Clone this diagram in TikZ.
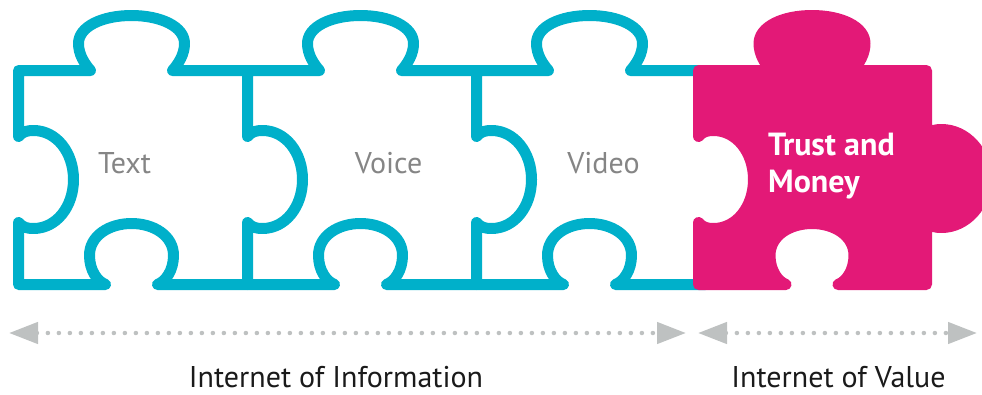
\documentclass[tikz,border=0pt]{standalone}
\usepackage{fontspec}
\setmainfont{PT Sans}
\usetikzlibrary{arrows.meta}

\definecolor{puzzleblue}{RGB}{0,176,202}
\definecolor{valuepink}{RGB}{227,25,119}
\definecolor{labelgray}{RGB}{133,133,133}
\definecolor{arrowgray}{RGB}{190,193,193}
\definecolor{captionblack}{RGB}{26,26,26}

% Outline of one open puzzle piece (local units, y pointing down):
% bottom edge with a socket, left edge with a socket, top edge with a tab.
\newcommand\openpiece{%
  (229,214) -- (139,214)
  .. controls (147,211) and (155,200) .. (155,185)
  .. controls (155,165) and (135,153) .. (113,153)
  .. controls (91,153) and (71,165) .. (71,185)
  .. controls (71,200) and (79,211) .. (87,214)
  -- (0,214) -- (0,152)
  .. controls (4,157) and (9,158) .. (15,158)
  .. controls (38,158) and (55,136) .. (55,109)
  .. controls (55,82) and (38,60) .. (15,60)
  .. controls (9,60) and (4,61) .. (0,66)
  -- (0,0) -- (72,0)
  .. controls (66,-7) and (60,-16) .. (60,-27)
  .. controls (60,-44) and (84,-55) .. (113,-55)
  .. controls (142,-55) and (166,-44) .. (166,-27)
  .. controls (166,-16) and (160,-7) .. (154,0)
  -- (229,0)}

% Closed outline of the last piece, with a tab on its right edge.
\newcommand\closedpiece{%
  (0,0) -- (72.5,0)
  .. controls (66.5,-7) and (60.5,-16) .. (60.5,-27)
  .. controls (60.5,-44) and (84.5,-55) .. (113.5,-55)
  .. controls (142.5,-55) and (166.5,-44) .. (166.5,-27)
  .. controls (166.5,-16) and (160.5,-7) .. (154.5,0)
  -- (228,0) -- (228,64)
  .. controls (232,60) and (237,59) .. (243,59)
  .. controls (268,59) and (288,82) .. (288,108)
  .. controls (288,134) and (268,157) .. (243,157)
  .. controls (237,157) and (232,156) .. (228,152)
  -- (228,214) -- (139.5,214)
  .. controls (147.5,211) and (155.5,200) .. (155.5,185)
  .. controls (155.5,165) and (135.5,153) .. (113.5,153)
  .. controls (91.5,153) and (71.5,165) .. (71.5,185)
  .. controls (71.5,200) and (79.5,211) .. (87.5,214)
  -- (0,214) -- (0,152)
  .. controls (4,157) and (9,158) .. (15,158)
  .. controls (38,158) and (55,136) .. (55,109)
  .. controls (55,82) and (38,60) .. (15,60)
  .. controls (9,60) and (4,61) .. (0,66)
  -- cycle}

\tikzset{
  outlinepiece/.style={draw=puzzleblue, line width=11pt, line join=round, line cap=round},
  valuepiece/.style={fill=valuepink, draw=valuepink, line width=11pt, line join=round},
  piecelabel/.style={inner sep=0pt, anchor=base, text=labelgray,
    font=\fontsize{30}{36}\selectfont},
  valuelabel/.style={inner sep=0pt, anchor=base west, align=left, text=white,
    font=\fontsize{32}{37}\selectfont\bfseries},
  caption/.style={inner sep=0pt, anchor=base, text=captionblack,
    font=\fontsize{30}{36}\selectfont},
  span/.style={draw=arrowgray, line width=4.5pt, line cap=round,
    dash pattern=on 0pt off 11pt,
    {Triangle[length=29pt,width=21pt,sep=0pt]}-{Triangle[length=29pt,width=21pt,sep=0pt]}}
}

\begin{document}
\begin{tikzpicture}[x=1pt,y=-1pt]
  \useasboundingbox (0,0) rectangle (982,394);

  % three outlined pieces
  \foreach \px in {18.5,247.5,476.5}{
    \begin{scope}[shift={(\px,70.5)}]
      \path[outlinepiece] \openpiece;
    \end{scope}
  }

  % filled piece on the right
  \begin{scope}[shift={(698.5,70.5)}]
    \path[valuepiece] \closedpiece;
  \end{scope}

  % piece labels
  \node[piecelabel] (text)  at (124.5,173) {Text};
  \node[piecelabel] (voice) at (388.5,173) {Voice};
  \node[piecelabel] (video) at (603.5,173) {Video};
  % base of a two-line node is the baseline of its last line
  \node[valuelabel] (trust) at (768,192) {Trust and\\Money};

  % spans below the pieces
  \coordinate (infoL)  at (9,333);
  \coordinate (infoR)  at (686,333);
  \coordinate (valueL) at (698,333);
  \coordinate (valueR) at (977,333);
  \draw[span] (infoL) -- (infoR);
  \draw[span] (valueL) -- (valueR);

  \node[caption] (info)  at (336,387) {Internet of Information};
  \node[caption] (value) at (838.5,387) {Internet of Value};
\end{tikzpicture}
\end{document}
